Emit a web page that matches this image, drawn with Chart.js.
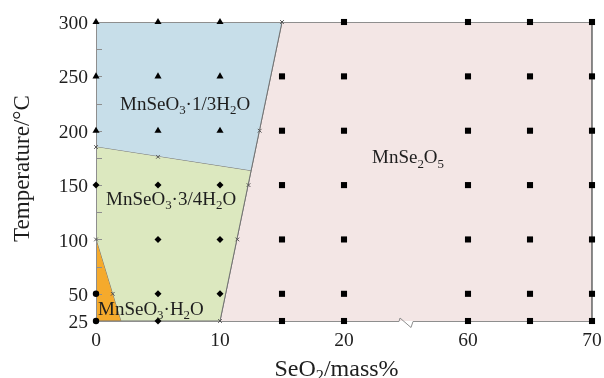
<!DOCTYPE html>
<html>
<head>
<meta charset="utf-8">
<script src="https://cdn.jsdelivr.net/npm/chart.js@4/dist/chart.umd.min.js"></script>
<style>
  html, body { margin: 0; padding: 0; background: #fff; }
  #wrap { width: 604px; height: 378px; position: relative; }
</style>
</head>
<body>
<div id="wrap"><canvas id="c"></canvas></div>
<script>
// ---- axis ticks ----
const T_TICKS = [25, 50, 100, 150, 200, 250, 300];
const T_MINOR = [75, 125, 175, 225, 275];
const X_TICKS = [0, 10, 20, 60, 70];
const X_CUT = [20, 60];          // mass% range removed from the x axis
const X_GAP = 10;               // axis units left for the cut

// ---- experimental points [SeO2 mass%, temperature °C] by solid phase ----
const PTS_THIRD = [[0,200],[5,200],[10,200],[0,250],[5,250],[10,250],[0,300],[5,300],[10,300]];
const PTS_THREEQ = [[0,150],[5,150],[10,150],[5,100],[10,100],[5,50],[10,50],[5,25]];
const PTS_MONO = [[0,50],[0,25]];
const PTS_DISEL = [
  [15,25],[15,50],[15,100],[15,150],[15,200],[15,250],
  [20,25],[20,50],[20,100],[20,150],[20,200],[20,250],[20,300],
  [60,25],[60,50],[60,100],[60,150],[60,200],[60,250],[60,300],
  [65,25],[65,50],[65,100],[65,150],[65,200],[65,250],[65,300],
  [70,25],[70,50],[70,100],[70,150],[70,200],[70,250],[70,300]
];
const PTS_BOUNDARY = [[0,185],[5,176],[15,300],[13.2,200],[12.3,150],[11.4,100],[10,25],[0,100],[1.35,50]];

// ---- phase field outlines ----
const FIELD_THIRD = [[0,300],[0,185],[12.5,163],[15,300]];
const FIELD_THREEQ = [[0,185],[0,100],[2,25],[10,25],[12.5,163]];
const FIELD_MONO = [[0,100],[0,25],[2,25]];
const FIELD_DISEL = [[10,25],[12.5,163],[15,300],[70,300],[70,25]];

// ---- field names (axis position, temperature) ----
const FIELD_NAMES = [
  { text: 'MnSeO_3·1/3H_2O', at: [1.94, 219] },
  { text: 'MnSeO_3·3/4H_2O', at: [0.81, 131.5] },
  { text: 'MnSeO_3·H_2O',    at: [0.16, 30.5] },
  { text: 'MnSe_2O_5',       at: [22.26, 170] }
];

const FONT = '"Liberation Serif", "Times New Roman", serif';
const TEXT = '#1e1e1e';
const EDGE = '#737373';
const FRAME = '#8e8e8e';

// mass% -> position on the broken axis, and back
const toAxis = v => (v <= X_CUT[0] ? v : v - (X_CUT[1] - X_CUT[0]) + X_GAP);
const fromAxis = p => (p <= X_CUT[0] ? p : p + (X_CUT[1] - X_CUT[0]) - X_GAP);
const toXY = ([x, t]) => ({ x: toAxis(x), y: t });

function field(pts, color, order) {
  return {
    data: pts.map(toXY), showLine: true, fill: 'shape', tension: 0,
    backgroundColor: color, borderColor: EDGE, borderWidth: 1,
    pointRadius: 0, pointHoverRadius: 0, order
  };
}
function marks(pts, style, r, extra) {
  return Object.assign({
    data: pts.map(toXY), showLine: false, pointStyle: style,
    pointRadius: r, pointHoverRadius: r,
    backgroundColor: '#000', borderColor: '#000', borderWidth: 0,
    clip: false, order: 0
  }, extra || {});
}

// text with single-character subscripts written as _x
function drawRich(ctx, str, x, y, size, align) {
  const parts = [];
  for (let i = 0; i < str.length; i++) {
    if (str[i] === '_') { parts.push({ t: str[i + 1], sub: true }); i++; }
    else if (parts.length && !parts[parts.length - 1].sub) parts[parts.length - 1].t += str[i];
    else parts.push({ t: str[i], sub: false });
  }
  const main = size + 'px ' + FONT, small = (size * 0.68) + 'px ' + FONT;
  let w = 0;
  for (const p of parts) { ctx.font = p.sub ? small : main; p.w = ctx.measureText(p.t).width; w += p.w; }
  let cx = align === 'center' ? x - w / 2 : x;
  ctx.textAlign = 'left';
  ctx.textBaseline = 'alphabetic';
  for (const p of parts) {
    ctx.font = p.sub ? small : main;
    ctx.fillText(p.t, cx, p.sub ? y + size * 0.22 : y);
    cx += p.w;
  }
}

const decor = {
  id: 'decor',
  afterDatasetDraw(chart, args) {
    if (args.meta.order !== 1) return;          // after the last phase field
    const { ctx, chartArea: a, scales: { x, y } } = chart;
    ctx.save();
    ctx.strokeStyle = FRAME;
    ctx.lineWidth = 1;
    const L = a.left + 0.5, R = a.right + 0.5, T = a.top + 0.5, B = a.bottom + 0.5;
    ctx.beginPath();
    ctx.moveTo(L, B); ctx.lineTo(L, T); ctx.lineTo(R, T); ctx.lineTo(R, B);
    const bx = x.getPixelForValue(X_CUT[0] + X_GAP / 2);
    ctx.lineTo(bx + 7, B);
    ctx.lineTo(bx + 5, B + 6);
    ctx.lineTo(bx - 6, B - 3.5);
    ctx.lineTo(bx - 7, B);
    ctx.lineTo(L, B);
    ctx.stroke();
    // inward tick marks on the temperature axis
    ctx.beginPath();
    for (const t of T_MINOR.concat(T_TICKS)) {
      const py = Math.round(y.getPixelForValue(t)) + 0.5;
      ctx.moveTo(a.left, py); ctx.lineTo(a.left + 6, py);
    }
    ctx.stroke();
    ctx.restore();
  },
  afterDraw(chart) {
    const { ctx, scales: { x, y } } = chart;
    ctx.save();
    ctx.fillStyle = TEXT;
    for (const f of FIELD_NAMES) {
      drawRich(ctx, f.text, x.getPixelForValue(f.at[0]), y.getPixelForValue(f.at[1]), 19, 'left');
    }
    // axis titles
    drawRich(ctx, 'SeO_2/mass%', 336.5, 376, 24, 'center');
    ctx.translate(29, 168.5);
    ctx.rotate(-Math.PI / 2);
    drawRich(ctx, 'Temperature/°C', 0, 0, 23, 'center');
    ctx.restore();
  }
};

new Chart(document.getElementById('c'), {
  type: 'scatter',
  data: {
    datasets: [
      field(FIELD_DISEL, '#f3e6e5', 4),
      field(FIELD_THIRD, '#c7dee9', 3),
      field(FIELD_THREEQ, '#dce8bf', 2),
      field(FIELD_MONO, '#f5aa2c', 1),
      marks(PTS_THIRD, 'triangle', 4.1),
      marks(PTS_THREEQ, 'rectRot', 3.5),
      marks(PTS_MONO, 'circle', 3.2),
      marks(PTS_DISEL, 'rect', 4.3),
      marks(PTS_BOUNDARY, 'crossRot', 2.6, { borderColor: '#555', borderWidth: 1, backgroundColor: 'rgba(0,0,0,0)' })
    ]
  },
  options: {
    responsive: true,
    maintainAspectRatio: false,
    animation: false,
    events: [],
    layout: { padding: { left: 0, right: 12, top: 22, bottom: 0 } },
    plugins: { legend: { display: false }, tooltip: { enabled: false } },
    scales: {
      x: {
        type: 'linear', min: 0, max: toAxis(X_TICKS[X_TICKS.length - 1]),
        afterBuildTicks: s => { s.ticks = X_TICKS.map(v => ({ value: toAxis(v) })); },
        afterFit: s => { s.height = 57; s.paddingLeft = 0; s.paddingRight = 0; },
        grid: { display: false, drawTicks: false },
        border: { display: false },
        ticks: {
          callback: v => String(fromAxis(v)), autoSkip: false, maxRotation: 0,
          font: { family: FONT, size: 19.5 }, color: TEXT, padding: 8
        }
      },
      y: {
        type: 'linear', min: T_TICKS[0], max: T_TICKS[T_TICKS.length - 1],
        afterBuildTicks: s => { s.ticks = T_TICKS.map(v => ({ value: v })); },
        afterFit: s => { s.width = 96; s.paddingTop = 0; s.paddingBottom = 0; },
        grid: { display: false, drawTicks: false },
        border: { display: false },
        ticks: { font: { family: FONT, size: 19.5 }, color: TEXT, padding: 8, labelOffset: 2 }
      }
    }
  },
  plugins: [decor]
});
</script>
</body>
</html>
